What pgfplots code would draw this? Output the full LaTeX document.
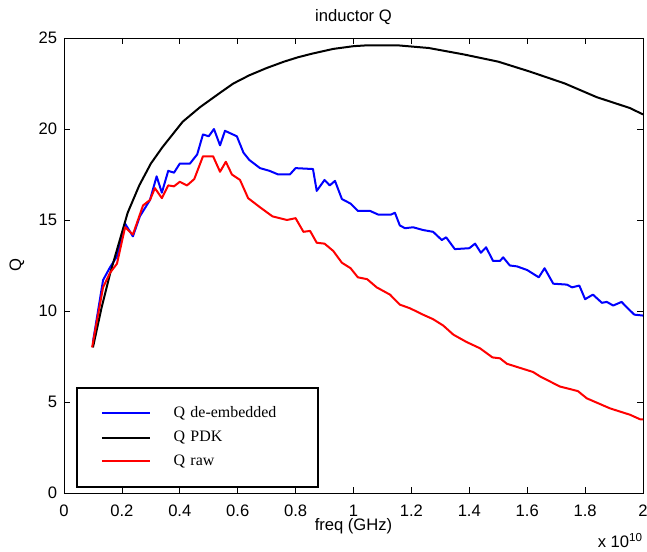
\documentclass[border=0pt]{standalone}
\usepackage{fontspec}
\setmainfont{Liberation Sans}
\newfontfamily\legendfont{Liberation Serif}
\usepackage{pgfplots}
\pgfplotsset{compat=1.18}

\begin{document}
\begin{tikzpicture}
\begin{axis}[
  scale only axis,
  width=434.25bp, height=341.25bp,
  xmin=0, xmax=2, ymin=0, ymax=25,
  xtick={0,0.2,0.4,0.6,0.8,1,1.2,1.4,1.6,1.8,2},
  xticklabels={0,0.2,0.4,0.6,0.8,1,1.2,1.4,1.6,1.8,2},
  ytick={0,5,10,15,20,25},
  tick align=inside,
  major tick length=4.5bp,
  axis line style={line width=0.6pt},
  every tick/.style={line width=0.6pt, black},
  /pgf/number format/assume math mode=true,
  ticklabel style={font=\fontsize{12.5}{14}\selectfont},
  xticklabel style={anchor=north, inner sep=0pt, yshift=-8.5bp},
  yticklabel style={anchor=east, inner sep=0pt, xshift=-5bp},
  title={inductor Q},
  title style={font=\fontsize{12.5}{14}\selectfont, at={(0.5,1)}, anchor=center, yshift=9.75bp},
  xlabel={freq (GHz)},
  xlabel style={font=\fontsize{12.5}{14}\selectfont, inner sep=0pt, at={(0.5,0)}, anchor=center, yshift=-25bp},
  ylabel={Q},
  ylabel style={font=\fontsize{12.5}{14}\selectfont, at={(0,0.5)}, anchor=center, yshift=35.25bp},
  legend style={at={(0.0207,0.011)}, anchor=south west, draw=black, line width=1.5bp,
    inner xsep=18bp, inner ysep=12.5bp, font=\legendfont\fontsize{12}{14}\selectfont,
    row sep=4.5bp, column sep=15bp, nodes={text width=88bp, align=left}},
  legend cell align=left,
  legend image code/.code={\draw[#1] (0bp,0bp) -- (36bp,0bp);},
  every axis plot/.append style={line width=1.5bp, line join=round},
]
\addplot[blue, no marks] coordinates {
(0.10,8.3) (0.135,11.7) (0.159,12.4) (0.183,13.0) (0.211,14.8) (0.238,14.1) (0.262,15.2)
(0.297,16.1) (0.32,17.4) (0.338,16.5) (0.36,17.7) (0.38,17.6) (0.40,18.1) (0.435,18.1)
(0.46,18.6) (0.48,19.7) (0.50,19.6) (0.518,20.0) (0.539,19.1) (0.556,19.9) (0.597,19.6)
(0.62,18.7) (0.64,18.3) (0.677,17.85) (0.71,17.7) (0.74,17.5) (0.78,17.5) (0.80,17.85)
(0.86,17.8) (0.873,16.6) (0.90,17.2) (0.918,16.9) (0.936,17.15) (0.96,16.15) (0.99,15.9)
(1.015,15.5) (1.057,15.5) (1.085,15.3) (1.13,15.3) (1.143,15.4) (1.16,14.7) (1.178,14.55)
(1.206,14.6) (1.24,14.45) (1.275,14.35) (1.305,13.9) (1.32,14.05) (1.35,13.4) (1.40,13.45)
(1.42,13.7) (1.44,13.2) (1.458,13.5) (1.482,12.75) (1.506,12.75) (1.517,12.95) (1.54,12.5)
(1.565,12.45) (1.60,12.25) (1.64,11.85) (1.66,12.35) (1.69,11.5) (1.737,11.45) (1.755,11.3)
(1.78,11.4) (1.80,10.65) (1.827,10.9) (1.858,10.45) (1.875,10.5) (1.897,10.3) (1.926,10.5)
(1.944,10.2) (1.97,9.8) (2.0,9.75)
};
\addlegendentry{Q de-embedded}
\addplot[black, no marks] coordinates {
(0.10,8.0) (0.13,10.2) (0.16,12.1) (0.22,15.4) (0.26,16.9) (0.30,18.1) (0.34,19.0)
(0.41,20.4) (0.47,21.2) (0.54,22.0) (0.585,22.5) (0.64,22.95) (0.70,23.35) (0.76,23.7)
(0.81,23.95) (0.86,24.15) (0.93,24.4) (1.0,24.55) (1.05,24.6) (1.15,24.6) (1.26,24.45)
(1.38,24.1) (1.50,23.7) (1.61,23.15) (1.73,22.5) (1.84,21.75) (1.955,21.15) (2.0,20.8)
};
\addlegendentry{Q PDK}
\addplot[red, no marks] coordinates {
(0.097,8.0) (0.135,11.3) (0.159,12.1) (0.183,12.6) (0.211,14.6) (0.238,14.2) (0.273,15.8)
(0.297,16.1) (0.314,16.75) (0.338,16.2) (0.36,16.9) (0.38,16.85) (0.40,17.1) (0.425,16.9)
(0.45,17.25) (0.48,18.5) (0.515,18.5) (0.539,17.65) (0.559,18.2) (0.58,17.5) (0.608,17.2)
(0.636,16.2) (0.677,15.7) (0.72,15.2) (0.77,15.0) (0.80,15.1) (0.827,14.35) (0.85,14.4)
(0.873,13.75) (0.90,13.7) (0.93,13.3) (0.96,12.65) (0.99,12.35) (1.015,11.85) (1.047,11.75)
(1.08,11.3) (1.126,10.9) (1.16,10.35) (1.195,10.15) (1.24,9.8) (1.275,9.55) (1.31,9.2)
(1.345,8.7) (1.39,8.3) (1.437,7.95) (1.48,7.45) (1.506,7.4) (1.53,7.1) (1.56,6.95)
(1.60,6.75) (1.62,6.65) (1.645,6.4) (1.713,5.85) (1.775,5.6) (1.806,5.2) (1.886,4.65)
(1.955,4.3) (1.99,4.05) (2.0,4.05)
};
\addlegendentry{Q raw}
\coordinate (sw) at (rel axis cs:0,0);
\coordinate (ne) at (rel axis cs:1,1);
\end{axis}
\node[anchor=base east, inner sep=0pt, font=\fontsize{12.5}{14}\selectfont]
  at ([yshift=-40.5bp]sw -| ne) {x 10\textsuperscript{10}};
\pgfresetboundingbox
\path[use as bounding box] ([xshift=-48bp,yshift=-44.25bp]sw) rectangle ([xshift=3bp,yshift=28.5bp]ne);
\end{tikzpicture}
\end{document}
